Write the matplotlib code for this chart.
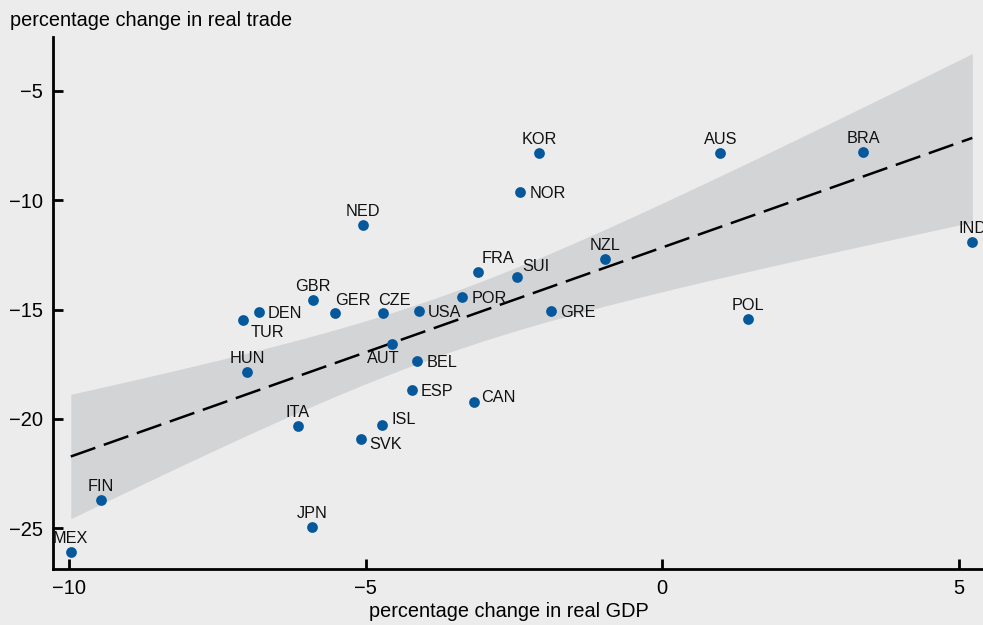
import numpy as np
import matplotlib
matplotlib.use("Agg")
import matplotlib.pyplot as plt

plt.rcParams["font.family"] = ["Liberation Sans", "DejaVu Sans"]

# countries, real GDP change (x) and real trade change (y), in percent
countries = ["MEX", "FIN", "JPN", "ITA", "SVK", "ISL", "ESP", "CAN", "BEL", "AUT",
             "HUN", "TUR", "DEN", "GBR", "GER", "CZE", "USA", "POR", "FRA", "SUI",
             "NZL", "GRE", "NED", "NOR", "KOR", "AUS", "BRA", "POL", "IND"]
gdp = [-9.97, -9.46, -5.90, -6.14, -5.08, -4.72, -4.22, -3.17, -4.13, -4.55,
       -7.00, -7.07, -6.80, -5.89, -5.51, -4.70, -4.10, -3.37, -3.10, -2.45,
       -0.96, -1.87, -5.04, -2.39, -2.07, 0.98, 3.39, 1.45, 5.23]
trade = [-26.08, -23.70, -24.94, -20.32, -20.91, -20.27, -18.67, -19.22, -17.35, -16.57,
         -17.85, -15.47, -15.11, -14.56, -15.15, -15.15, -15.06, -14.42, -13.28, -13.50,
         -12.68, -15.06, -11.13, -9.62, -7.83, -7.83, -7.79, -15.43, -11.90]

# label placement: (dx, dy) in pixels, ha, va
place = {
    "up": (0, 9, "center", "baseline"),
    "right": (9, 0, "left", "center_baseline"),
}
custom = {
    "TUR": (8, -11, "left", "center_baseline"),
    "AUT": (-9, -7, "center", "top"),
    "FRA": (3, 9, "left", "baseline"),
    "SUI": (5, 6, "left", "baseline"),
    "GER": (0, 8, "left", "baseline"),
    "CZE": (-5, 8, "left", "baseline"),
    "CAN": (7, 6, "left", "center_baseline"),
    "ISL": (9, 7, "left", "center_baseline"),
    "SVK": (8, -4, "left", "center_baseline"),
}
right_side = {"NOR", "POR", "USA", "GRE", "DEN", "BEL", "ESP"}

bg = "#ececec"
dot = "#06589c"
band = "#d3d4d6"

x = np.array(gdp)
y = np.array(trade)
n = len(x)
b, a = np.polyfit(x, y, 1)
xs = np.linspace(x.min(), x.max(), 200)
fit = a + b * xs
resid = y - (a + b * x)
s = np.sqrt(np.sum(resid ** 2) / (n - 2))
se = s * np.sqrt(1 / n + (xs - x.mean()) ** 2 / np.sum((x - x.mean()) ** 2))
t = 2.052  # t(0.975, df=27)

fig = plt.figure(figsize=(9.83, 6.25), dpi=100)
fig.patch.set_facecolor(bg)
ax = fig.add_axes([53 / 983, 56 / 625, 930 / 983, 532 / 625])
ax.set_facecolor(bg)

ax.fill_between(xs, fit - t * se, fit + t * se, color=band, lw=0, zorder=1)
ax.plot(xs, fit, color="black", lw=1.8, dashes=(10.4, 3.6), zorder=2)
ax.scatter(x, y, s=60, color=dot, zorder=3, lw=0)

for c, xi, yi in zip(countries, gdp, trade):
    if c in custom:
        dx, dy, ha, va = custom[c]
    elif c in right_side:
        dx, dy, ha, va = place["right"]
    else:
        dx, dy, ha, va = place["up"]
    ax.annotate(c, (xi, yi), xytext=(dx, dy), textcoords="offset pixels",
                ha=ha, va=va, fontsize=11.7, color="#111111", zorder=4)

ax.set_xlim(-10.27, 5.41)
ax.set_ylim(-26.87, -2.53)
ax.set_xticks([-10, -5, 0, 5])
ax.set_yticks([-5, -10, -15, -20, -25])
for sp in ["top", "right"]:
    ax.spines[sp].set_visible(False)
for sp in ["left", "bottom"]:
    ax.spines[sp].set_linewidth(2)
ax.tick_params(direction="in", length=7, width=2, labelsize=14.5, pad=7)

ax.set_xlabel("percentage change in real GDP", fontsize=14.3)
ax.xaxis.set_label_coords(0.490, -0.062)
fig.text(10 / 983, 1 - 26 / 625, "percentage change in real trade", fontsize=14.3,
         ha="left", va="baseline")

fig.savefig("out.png", dpi=100, facecolor=bg)
